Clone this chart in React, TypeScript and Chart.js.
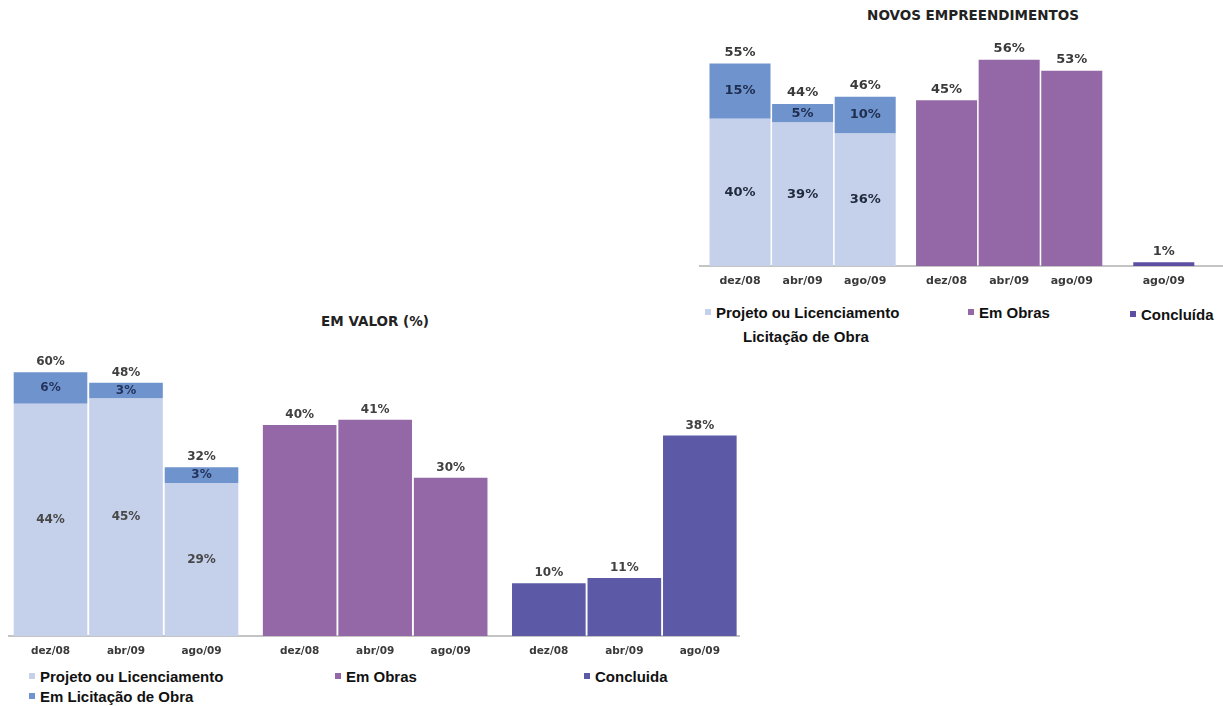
import React, { useEffect, useRef } from "react";
import { Chart, registerables } from "chart.js";

Chart.register(...registerables);

// ---------- EM VALOR (%) ----------
const valorPeriods = ["dez/08", "abr/09", "ago/09"];
const valorProjeto = [44, 45, 29];
const valorLicitacao = [6, 3, 3];
const valorStackTotals = ["60%", "48%", "32%"];
const valorObras = [40, 41, 30];
const valorConcluida = [10, 11, 38];

// ---------- NOVOS EMPREENDIMENTOS ----------
const novosPeriods = ["dez/08", "abr/09", "ago/09"];
const novosProjeto = [40, 39, 36];
const novosLicitacao = [15, 5, 10];
const novosStackTotals = ["55%", "44%", "46%"];
const novosObras = [45, 56, 53];
const novosConcluidaPeriods = ["ago/09"];
const novosConcluida = [1];

// ---------- series names ----------
const nameProjeto = "Projeto ou Licenciamento";
const nameLicitacao = "Em Licitação de Obra";
const nameLicitacaoTop = "Licitação de Obra";
const nameObras = "Em Obras";
const nameConcluidaValor = "Concluida";
const nameConcluidaNovos = "Concluída";

const C_PROJETO = "#c5d1ea";
const C_LICIT = "#6f94cd";
const C_OBRAS = "#9468a7";
const C_CONCL = "#5c5aa6";
const C_CONCL_TOP = "#5d4ea2";

type Seg = { label: string; values: number[]; color: string; inner: string | null };
type Group = { start: number; periods: string[]; segs: Seg[]; totals: string[] | null };

type PanelProps = {
  groups: Group[];
  xMin: number;
  xMax: number;
  yMax: number;
  left: number;
  top: number;
  width: number;
  height: number;
  axisH: number;
  tickPad: number;
  tickSize: number;
  labelSize: number;
  totalColor: string;
  totalOffset: number;
};

function buildConfig(p: PanelProps): any {
  const datasets: any[] = [];
  const meta: { values: number[]; inner: string | null; totals: string[] | null }[] = [];
  const tickPos: number[] = [];
  const tickLabels: string[] = [];
  p.groups.forEach((g) => {
    g.periods.forEach((per, i) => {
      tickPos.push(g.start + i);
      tickLabels.push(per);
    });
    g.segs.forEach((s, si) => {
      datasets.push({
        label: s.label,
        data: s.values.map((v, i) => ({ x: g.start + i, y: v })),
        backgroundColor: s.color,
        borderWidth: 0,
        stack: "all",
        barPercentage: 0.975,
        categoryPercentage: 1,
      });
      meta.push({
        values: s.values,
        inner: s.inner,
        totals: si === g.segs.length - 1 ? g.totals ?? s.values.map((v) => v + "%") : null,
      });
    });
  });

  const labelPlugin = {
    id: "barLabels",
    afterDatasetsDraw(chart: any) {
      const ctx = chart.ctx;
      ctx.save();
      ctx.textAlign = "center";
      ctx.textBaseline = "middle";
      ctx.font = `bold ${p.labelSize}px "DejaVu Sans"`;
      meta.forEach((m, di) => {
        const els = chart.getDatasetMeta(di).data;
        els.forEach((el: any, i: number) => {
          const { x, y, base } = el.getProps(["x", "y", "base"], true);
          if (m.inner) {
            ctx.fillStyle = m.inner;
            ctx.fillText(m.values[i] + "%", x, (y + base) / 2);
          }
          if (m.totals) {
            ctx.fillStyle = p.totalColor;
            ctx.fillText(m.totals[i], x, y - p.totalOffset);
          }
        });
      });
      ctx.restore();
    },
  };

  return {
    type: "bar",
    data: { datasets },
    plugins: [labelPlugin],
    options: {
      animation: false,
      responsive: false,
      maintainAspectRatio: false,
      events: [],
      layout: { padding: 0 },
      plugins: {
        legend: { display: false },
        title: { display: false },
        tooltip: { enabled: false },
      },
      scales: {
        x: {
          type: "linear",
          min: p.xMin,
          max: p.xMax,
          bounds: "data",
          offset: false,
          stacked: true,
          grid: { display: false },
          border: { display: true, color: "#c4c4c4", width: 2 },
          afterBuildTicks: (scale: any) => {
            scale.ticks = tickPos.map((v) => ({ value: v }));
          },
          afterFit: (scale: any) => {
            scale.height = p.axisH;
          },
          ticks: {
            autoSkip: false,
            maxRotation: 0,
            minRotation: 0,
            padding: p.tickPad,
            color: "#3a3a3a",
            font: { family: "DejaVu Sans", size: p.tickSize, weight: "bold" },
            callback: (_v: any, i: number) => tickLabels[i],
          },
        },
        y: {
          type: "linear",
          display: false,
          min: 0,
          max: p.yMax,
          stacked: true,
        },
      },
    },
  };
}

function BarPanel(p: PanelProps) {
  const ref = useRef<HTMLCanvasElement>(null);
  useEffect(() => {
    const chart = new Chart(ref.current as HTMLCanvasElement, buildConfig(p));
    return () => chart.destroy();
  }, []);
  return (
    <canvas
      ref={ref}
      width={p.width}
      height={p.height}
      style={{ position: "absolute", left: p.left, top: p.top, width: p.width, height: p.height }}
    />
  );
}

function LegendItem({ x, cy, color, text }: { x: number; cy: number; color: string | null; text: string }) {
  return (
    <div
      style={{
        position: "absolute",
        left: x,
        top: cy - 9,
        height: 18,
        lineHeight: "18px",
        display: "flex",
        alignItems: "center",
        whiteSpace: "nowrap",
        font: 'bold 15px "Liberation Sans", Arial, sans-serif',
        color: "#111",
      }}
    >
      {color ? <span style={{ width: 6, height: 6, background: color, marginRight: 5, display: "inline-block" }} /> : null}
      <span>{text}</span>
    </div>
  );
}

function Title({ cx, cy, text }: { cx: number; cy: number; text: string }) {
  return (
    <div
      style={{
        position: "absolute",
        left: cx - 200,
        width: 400,
        top: cy - 9,
        height: 18,
        lineHeight: "18px",
        textAlign: "center",
        font: 'bold 13.5px "DejaVu Sans", sans-serif',
        color: "#222",
      }}
    >
      {text}
    </div>
  );
}

export default function App() {
  const valorGroups: Group[] = [
    {
      start: 0,
      periods: valorPeriods,
      segs: [
        { label: nameProjeto, values: valorProjeto, color: C_PROJETO, inner: "#474747" },
        { label: nameLicitacao, values: valorLicitacao, color: C_LICIT, inner: "#24335c" },
      ],
      totals: valorStackTotals,
    },
    { start: 3.3, periods: valorPeriods, segs: [{ label: nameObras, values: valorObras, color: C_OBRAS, inner: null }], totals: null },
    { start: 6.6, periods: valorPeriods, segs: [{ label: nameConcluidaValor, values: valorConcluida, color: C_CONCL, inner: null }], totals: null },
  ];
  const novosGroups: Group[] = [
    {
      start: 0,
      periods: novosPeriods,
      segs: [
        { label: nameProjeto, values: novosProjeto, color: C_PROJETO, inner: "#1f2a3c" },
        { label: nameLicitacao, values: novosLicitacao, color: C_LICIT, inner: "#1f2d4f" },
      ],
      totals: novosStackTotals,
    },
    { start: 3.3, periods: novosPeriods, segs: [{ label: nameObras, values: novosObras, color: C_OBRAS, inner: null }], totals: null },
    { start: 6.77, periods: novosConcluidaPeriods, segs: [{ label: nameConcluidaNovos, values: novosConcluida, color: C_CONCL_TOP, inner: null }], totals: null },
  ];

  return (
    <div style={{ position: "absolute", left: 0, top: 0, width: 1223, height: 706, background: "#fff", overflow: "hidden" }}>
      <Title cx={973} cy={16} text="NOVOS EMPREENDIMENTOS" />
      <BarPanel
        groups={novosGroups}
        xMin={-0.655}
        xMax={7.716}
        yMax={64.1}
        left={699}
        top={30}
        width={524}
        height={266}
        axisH={30}
        tickPad={1}
        tickSize={11}
        labelSize={13}
        totalColor="#3a3a3a"
        totalOffset={11}
      />
      <LegendItem x={705} cy={312} color={C_PROJETO} text={nameProjeto} />
      <LegendItem x={968} cy={312} color={C_OBRAS} text={nameObras} />
      <LegendItem x={1130} cy={314} color={C_CONCL_TOP} text={nameConcluidaNovos} />
      <LegendItem x={743} cy={336} color={null} text={nameLicitacaoTop} />

      <Title cx={375} cy={322} text="EM VALOR (%)" />
      <BarPanel
        groups={valorGroups}
        xMin={-0.563}
        xMax={9.132}
        yMax={58}
        left={8}
        top={330}
        width={732}
        height={336}
        axisH={30}
        tickPad={1}
        tickSize={10.5}
        labelSize={12}
        totalColor="#404040"
        totalOffset={10}
      />
      <LegendItem x={29} cy={676} color={C_PROJETO} text={nameProjeto} />
      <LegendItem x={29} cy={696} color={C_LICIT} text={nameLicitacao} />
      <LegendItem x={335} cy={676} color={C_OBRAS} text={nameObras} />
      <LegendItem x={584} cy={676} color={C_CONCL} text={nameConcluidaValor} />
    </div>
  );
}
